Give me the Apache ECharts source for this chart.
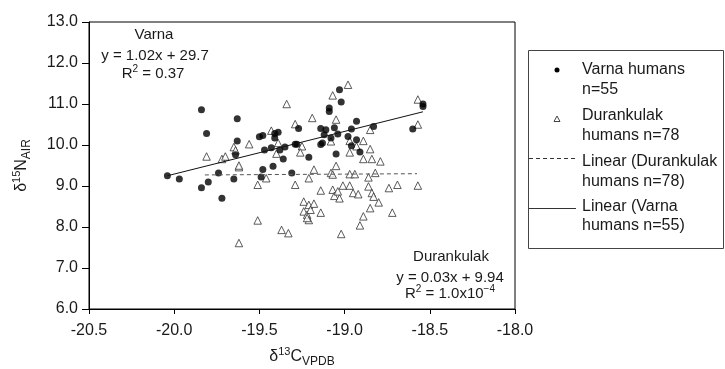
<!DOCTYPE html>
<html>
<head>
<meta charset="utf-8">
<script src="https://cdn.jsdelivr.net/npm/echarts@6/dist/echarts.min.js"></script>
<style>
  html, body { margin: 0; padding: 0; background: #fff; }
  #chart { width: 725px; height: 369px; }
</style>
</head>
<body>
<div id="chart"></div>
<script>
// Varna humans: d13C, d15N
const varnaC = [-20.04, -19.97, -19.84, -19.81, -19.80, -19.84, -19.72, -19.74, -19.65, -19.63,
  -19.63, -19.64, -19.50, -19.48, -19.41, -19.39, -19.41, -19.47, -19.43, -19.38,
  -19.35, -19.36, -19.42, -19.48, -19.49, -19.29, -19.28, -19.21, -19.31, -19.27,
  -19.14, -19.11, -19.12, -19.13, -19.14, -19.09, -19.09, -19.03, -19.02, -19.06,
  -19.08, -19.05, -19.04, -18.98, -18.96, -18.93, -18.93, -18.91, -18.83, -18.60,
  -18.54, -18.54, -18.96];
const varnaN = [9.25, 9.17, 10.86, 10.28, 9.10, 8.96, 8.70, 9.32, 9.17, 10.64,
  10.10, 9.76, 10.20, 10.23, 10.28, 10.31, 10.17, 9.88, 9.93, 9.88,
  9.95, 9.66, 9.48, 9.40, 9.22, 10.02, 10.02, 9.70, 9.32, 10.40,
  10.40, 10.37, 10.25, 10.05, 10.01, 10.90, 10.82, 11.35, 11.05, 10.42,
  10.17, 9.78, 10.27, 10.21, 10.39, 10.58, 10.13, 9.83, 10.45, 10.39,
  11.00, 10.94, 9.98];

// Durankulak humans: d13C, d15N
const durC = [-19.81, -19.72, -19.70, -19.65, -19.64, -19.62, -19.56, -19.51, -19.51, -19.62,
  -19.43, -19.39, -19.40, -19.46, -19.34, -19.29, -19.29, -19.25, -19.26, -19.37,
  -19.33, -19.18, -19.21, -19.19, -19.14, -19.24, -19.21, -19.18, -19.24, -19.22,
  -19.21, -19.14, -19.08, -19.07, -19.05, -19.08, -19.07, -19.06, -19.03, -19.04,
  -19.01, -18.97, -19.02, -19.07, -18.98, -19.05, -18.97, -18.89, -18.97, -18.93,
  -18.85, -18.89, -18.84, -18.79, -18.85, -18.97, -18.94, -18.86, -18.82, -18.95,
  -18.92, -18.86, -18.84, -18.83, -18.80, -18.85, -18.89, -18.91, -18.74, -18.72,
  -18.69, -18.57, -18.57, -18.57, -19.22, -19.20, -19.62];
const durN = [9.72, 9.66, 9.72, 9.95, 9.87, 9.46, 10.02, 9.03, 8.16, 7.61,
  10.35, 10.05, 9.79, 9.19, 11.00, 10.51, 9.03, 9.97, 9.82, 7.93,
  7.85, 9.40, 9.19, 10.66, 8.89, 8.62, 8.54, 8.57, 8.38, 8.30,
  8.17, 8.35, 9.32, 9.28, 9.49, 10.09, 8.91, 8.76, 8.70, 8.87,
  9.01, 9.01, 7.83, 11.21, 11.47, 10.62, 10.10, 10.10, 9.82, 9.97,
  9.90, 9.66, 9.66, 9.60, 10.37, 9.29, 9.29, 9.21, 9.32, 8.83,
  8.80, 8.99, 8.83, 8.74, 8.60, 8.46, 8.26, 8.04, 8.95, 8.35,
  9.03, 9.01, 11.11, 10.50, 8.22, 8.42, 9.50];

// fitted line end points (as drawn)
const varnaFitC = [-20.04, -18.54];
const varnaFitN = [9.25, 10.81];
const durFitC = [-19.82, -18.575];
const durFitN = [9.27, 9.30];

const xTicks = { min: -20.5, max: -18.0, step: 0.5 };
const yTicks = { min: 6.0, max: 13.0, step: 1.0 };

const pairs = (xs, ys) => xs.map((x, i) => [x, ys[i]]);

const font = 'Liberation Sans, Arial, sans-serif';
const ink = '#1a1a1a';

const chart = echarts.init(document.getElementById('chart'));

const supRich = {
  a: { fontSize: 15, fontFamily: font, color: ink, lineHeight: 20 },
  sup: { fontSize: 10, fontFamily: font, color: ink, verticalAlign: 'top', lineHeight: 20, padding: [0, 0, 6, 0] },
  sub: { fontSize: 11, fontFamily: font, color: ink, verticalAlign: 'bottom', lineHeight: 20, padding: [6, 0, 0, 0] }
};

const nameRich = {
  a: { fontSize: 16, fontFamily: font, color: ink, lineHeight: 22 },
  sup: { fontSize: 11, fontFamily: font, color: ink, verticalAlign: 'top', lineHeight: 22, padding: [0, 0, 6, 0] },
  sub: { fontSize: 12, fontFamily: font, color: ink, verticalAlign: 'bottom', lineHeight: 22, padding: [8, 0, 0, 0] }
};

function note(text, x, y) {
  return {
    type: 'text', x: x, y: y,
    style: { text: text, rich: supRich, align: 'center', verticalAlign: 'middle', font: '15px ' + font, fill: ink }
  };
}

function legendText(text, y) {
  return {
    type: 'text', x: 582, y: y,
    style: { text: text, font: '16px ' + font, fill: ink, verticalAlign: 'middle' }
  };
}

const option = {
  animation: false,
  backgroundColor: '#fff',
  grid: {
    left: 89, right: 210, top: 22, bottom: 60,
    outerBoundsMode: 'none',
    show: true, borderColor: '#000', borderWidth: 1
  },
  xAxis: {
    type: 'value',
    min: xTicks.min, max: xTicks.max, interval: xTicks.step,
    name: '{a|δ}{sup|13}{a|C}{sub|VPDB}',
    nameLocation: 'middle', nameGap: 37,
    nameTextStyle: { rich: nameRich },
    axisLine: { lineStyle: { color: '#000', width: 1 } },
    axisTick: { inside: false, length: 5, lineStyle: { color: '#000' } },
    axisLabel: { fontSize: 16, fontFamily: font, color: ink, margin: 14, formatter: v => v.toFixed(1) },
    splitLine: { show: false }
  },
  yAxis: {
    type: 'value',
    min: yTicks.min, max: yTicks.max, interval: yTicks.step,
    name: '{a|δ}{sup|15}{a|N}{sub|AIR}',
    nameLocation: 'middle', nameGap: 56, nameRotate: 90,
    nameTextStyle: { rich: nameRich },
    axisLine: { lineStyle: { color: '#000', width: 1 } },
    axisTick: { inside: false, length: 7, lineStyle: { color: '#000' } },
    axisLabel: { fontSize: 16, fontFamily: font, color: ink, margin: 11, formatter: v => v.toFixed(1) },
    splitLine: { show: false }
  },
  series: [
    {
      name: 'Durankulak humans n=78',
      type: 'scatter',
      symbol: 'triangle',
      symbolSize: 7.5,
      itemStyle: { color: '#fff', borderColor: '#333', borderWidth: 1 },
      data: pairs(durC, durN),
      z: 2
    },
    {
      name: 'Varna humans n=55',
      type: 'scatter',
      symbol: 'circle',
      symbolSize: 7,
      itemStyle: { color: '#000' },
      data: pairs(varnaC, varnaN),
      z: 3
    },
    {
      name: 'Linear (Durankulak humans n=78)',
      type: 'line',
      showSymbol: false,
      lineStyle: { color: '#555', width: 1, type: [4, 3] },
      data: pairs(durFitC, durFitN),
      z: 4
    },
    {
      name: 'Linear (Varna humans n=55)',
      type: 'line',
      showSymbol: false,
      lineStyle: { color: '#111', width: 1 },
      data: pairs(varnaFitC, varnaFitN),
      z: 4
    }
  ],
  graphic: [
    note('{a|Varna}', 154, 35),
    note('{a|y = 1.02x + 29.7}', 155, 56),
    note('{a|R}{sup|2}{a| = 0.37}', 153, 74),
    note('{a|Durankulak}', 451, 257),
    note('{a|y = 0.03x + 9.94}', 450, 278),
    note('{a|R}{sup|2}{a| = 1.0x10}{sup|−4}', 450, 294),
    {
      type: 'rect',
      shape: { x: 528.5, y: 50.5, width: 195, height: 198 },
      style: { fill: '#fff', stroke: '#444', lineWidth: 1 }
    },
    { type: 'circle', shape: { cx: 557, cy: 70, r: 2.5 }, style: { fill: '#000' } },
    {
      type: 'polygon',
      shape: { points: [[557, 116], [560, 121.5], [554, 121.5]] },
      style: { fill: '#fff', stroke: '#444', lineWidth: 1 }
    },
    {
      type: 'line',
      shape: { x1: 529, y1: 158.5, x2: 576, y2: 158.5 },
      style: { stroke: '#333', lineWidth: 1, lineDash: [4, 3] }
    },
    {
      type: 'line',
      shape: { x1: 529, y1: 208.5, x2: 576, y2: 208.5 },
      style: { stroke: '#333', lineWidth: 1 }
    },
    legendText('Varna humans', 70),
    legendText('n=55', 90),
    legendText('Durankulak', 116),
    legendText('humans n=78', 136),
    legendText('Linear (Durankulak', 162),
    legendText('humans n=78)', 182),
    legendText('Linear (Varna', 207),
    legendText('humans n=55)', 226)
  ]
};

chart.setOption(option);
</script>
</body>
</html>
